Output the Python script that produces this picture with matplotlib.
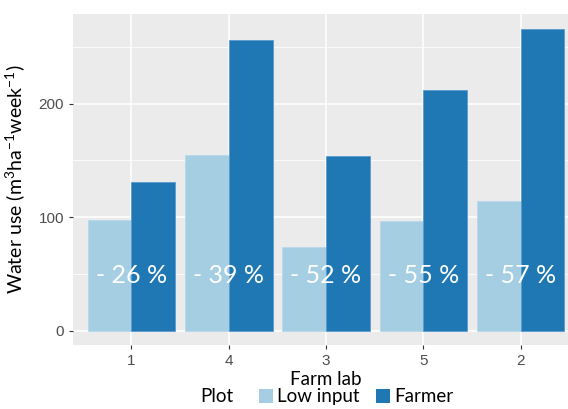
import matplotlib
matplotlib.use("Agg")
import matplotlib.pyplot as plt
import numpy as np
from matplotlib.patches import Patch

farms = ["1", "4", "3", "5", "2"]
low_input = [98, 155, 74, 97, 114]
farmer = [131, 256, 154, 212, 266]
reductions = ["- 26 %", "- 39 %", "- 52 %", "- 55 %", "- 57 %"]
series_names = ["Low input", "Farmer"]
colors = ["#a6cee3", "#1f78b4"]

plt.rcParams["mathtext.fontset"] = "custom"
plt.rcParams["mathtext.rm"] = "Lato"
plt.rcParams["mathtext.it"] = "Lato"

fig = plt.figure(figsize=(5.68, 4.09), dpi=100)
ax = fig.add_axes([0.1285, 0.1565, 0.891, 0.8093])
ax.set_facecolor("#ebebeb")

x = np.arange(len(farms))
w = 0.45
ax.bar(x - w / 2, low_input, width=w, color=colors[0], edgecolor="#b8d8ea", linewidth=0.6, zorder=3)
ax.bar(x + w / 2, farmer, width=w, color=colors[1], edgecolor="#5a9bd0", linewidth=0.6, zorder=3)

for xi, t in zip(x, reductions):
    ax.text(xi, 49, t, color="white", fontsize=18, family="Lato", ha="center", va="center", zorder=4)

ax.set_xlim(-0.6, 4.6)
ax.set_ylim(-12.5, 279)
ax.set_xticks(x)
ax.set_xticklabels(farms, family="Liberation Sans")
ax.set_yticks([0, 100, 200])
ax.set_yticklabels(["0", "100", "200"], family="Liberation Sans")
ax.set_yticks([50, 150, 250], minor=True)
ax.grid(which="major", color="white", linewidth=1.1, zorder=0)
ax.grid(which="minor", axis="y", color="white", linewidth=0.55, zorder=0)
ax.tick_params(which="major", colors="#333333", labelcolor="#4d4d4d", labelsize=11, length=3, width=0.8)
ax.tick_params(which="minor", length=0)
for s in ax.spines.values():
    s.set_visible(False)

ax.set_ylabel("Water use (m$^{3}$ha$^{-1}$week$^{-1}$)", fontsize=14, family="Lato", labelpad=8)
ax.set_xlabel("Farm lab", fontsize=13.5, family="Lato", labelpad=2)

handles = [Patch(facecolor=c, edgecolor="none") for c in colors]
fig.text(0.352, 0.03, "Plot", fontsize=13.5, family="Lato", ha="left", va="center")
fig.legend(handles, series_names, loc="center", bbox_to_anchor=(0.627, 0.03), ncol=2,
           frameon=False, prop={"family": "Lato", "size": 13.5}, handlelength=0.75, handleheight=0.75,
           handletextpad=0.2, columnspacing=0.9, borderpad=0)

fig.savefig("out.png", dpi=100)
